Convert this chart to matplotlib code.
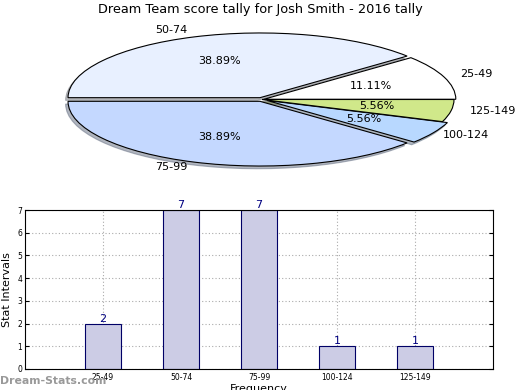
import matplotlib
matplotlib.use("Agg")
import matplotlib.pyplot as plt
import numpy as np

categories = ["25-49", "50-74", "75-99", "100-124", "125-149"]
counts = [2, 7, 7, 1, 1]
pct_labels = ["11.11%", "38.89%", "38.89%", "5.56%", "5.56%"]
colors = ["#ffffff", "#e8f0ff", "#c4d8ff", "#b8d8ff", "#d0e88a"]
explode = [0.01, 0.03, 0.03, 0.03, 0.0]

fig = plt.figure(figsize=(5.2, 3.9), dpi=100)
fig.text(0.5, 0.975, "Dream Team score tally for Josh Smith - 2016 tally",
         ha="center", va="center", fontsize=9.3)

# Pie (elliptical)
axp = fig.add_axes([70/520, 1-164.2/390, 384/520, 129.4/390])
wedges, texts = axp.pie(counts, colors=colors, explode=explode, startangle=0,
                        counterclock=True,
                        shadow={"ox": -0.009, "oy": -0.03, "shade": 0.5},
                        wedgeprops=dict(edgecolor="black", linewidth=0.8))
axp.set_aspect("auto")
axp.set_xlim(-1.0, 1.0)
axp.set_ylim(-1.0, 1.0)
for w in axp.patches:
    w.set_clip_on(False)

pct_pos = [(0.57, 0.21), (-0.22, 0.6), (-0.22, -0.58), (0.53, -0.3), (0.6, -0.1)]
for (px, py), p in zip(pct_pos, pct_labels):
    axp.text(px, py, p, ha="center", va="center", fontsize=8)
label_pos = [(1.03, 0.39), (-0.47, 1.07), (-0.47, -1.04), (0.94, -0.55), (1.08, -0.18)]
for (lx, ly), lab in zip(label_pos, categories):
    axp.text(lx, ly, lab, ha="left" if lx > 0 else "center", va="center", fontsize=8)

# Bars
axb = fig.add_axes([25/520, 1-369/390, 468/520, 159/390])
x = np.arange(1, len(categories) + 1)
axb.bar(x, counts, width=0.46, color="#ccccE5", edgecolor="#000066", linewidth=0.8, zorder=2)
for xi, c in zip(x, counts):
    axb.text(xi, c, str(c), ha="center", va="bottom", color="#000080", fontsize=8, zorder=3)
axb.set_xlim(0, 6)
axb.set_ylim(0, 7)
axb.set_xticks(x)
axb.set_xticklabels(categories, fontsize=5.5)
axb.set_yticks(range(0, 8))
axb.tick_params(axis="y", labelsize=5.5, direction="in", right=True, length=3, pad=2)
axb.tick_params(axis="x", direction="in", top=False, length=3, pad=3)
axb.grid(True, linestyle=(0, (1, 2)), color="#aaaaaa", linewidth=0.8, zorder=0)
axb.set_axisbelow(True)
axb.set_ylabel("Stat Intervals", fontsize=8, labelpad=4)
axb.set_xlabel("Frequency", fontsize=8, labelpad=1)

fig.text(0.0, 1-381/390, "Dream-Stats.com", fontsize=7.8, color="#999999",
         fontweight="bold", ha="left", va="center")

fig.savefig("out.png", dpi=100)
